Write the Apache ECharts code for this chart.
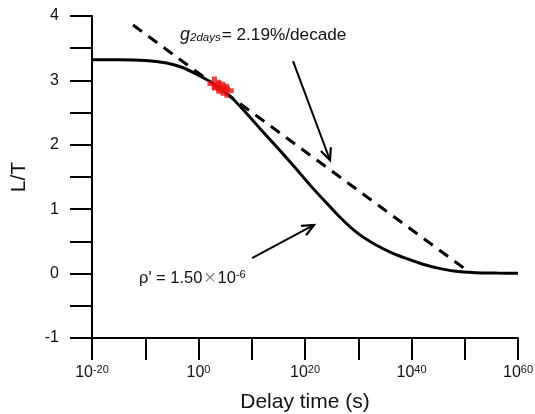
<!DOCTYPE html>
<html>
<head>
<meta charset="utf-8">
<script src="https://cdn.jsdelivr.net/npm/echarts@6/dist/echarts.min.js"></script>
<style>
  html, body { margin: 0; padding: 0; background: #fff; }
  #chart { width: 535px; height: 414px; }
</style>
</head>
<body>
<div id="chart"></div>
<script>
// Delay time is plotted as log10(t / s); the axis labels show it as 10^n.
const curveLogT = [-20, -15, -10, -6, -3, 0, 3, 6, 9, 12, 15, 18, 21, 24, 27, 30, 33, 36, 39, 42, 45, 48, 52, 56, 60];
const curveLT   = [3.32, 3.32, 3.31, 3.27, 3.20, 3.08, 2.94, 2.75, 2.49, 2.21, 1.94, 1.66, 1.37, 1.10, 0.84, 0.62, 0.46, 0.335, 0.235, 0.15, 0.085, 0.04, 0.015, 0.008, 0.005];

// tangent at the 2-day measurements
const tangentLogT = [-12.3, 50.4];
const tangentLT   = [3.86, 0.05];

// measured points (red)
const measLogT = [3.0, 3.8, 4.6, 5.3];
const measLT   = [2.95, 2.90, 2.87, 2.84];

// annotation arrows: [fromLogT, fromLT, toLogT, toLT]
const arrowG   = [17.75, 3.30, 24.7, 1.76];
const arrowRho = [10.05, 0.24, 21.7, 0.755];

const xLabelDecades = [-20, 0, 20, 40, 60];
const yLabelValues  = [-1, 0, 1, 2, 3, 4];

const FONT = 'Liberation Sans, Arial, sans-serif';
const INK = '#111';

const chart = echarts.init(document.getElementById('chart'), null, { renderer: 'canvas' });

function zip(a, b) { return a.map((v, i) => [v, b[i]]); }

function arrowItem(params, api) {
  const p0 = api.coord([api.value(0), api.value(1)]);
  const p1 = api.coord([api.value(2), api.value(3)]);
  const ang = Math.atan2(p1[1] - p0[1], p1[0] - p0[0]);
  const L = 13, spread = 0.42;
  const h1 = [p1[0] - L * Math.cos(ang - spread), p1[1] - L * Math.sin(ang - spread)];
  const h2 = [p1[0] - L * Math.cos(ang + spread), p1[1] - L * Math.sin(ang + spread)];
  return {
    type: 'group',
    children: [
      { type: 'line', shape: { x1: p0[0], y1: p0[1], x2: p1[0], y2: p1[1] },
        style: { stroke: '#000', lineWidth: 2 } },
      { type: 'polyline', shape: { points: [h1, p1, h2] },
        style: { stroke: '#000', lineWidth: 2.2, fill: null } }
    ]
  };
}

const option = {
  animation: false,
  backgroundColor: '#fff',
  grid: { left: 92, right: 17, top: 16, bottom: 76, containLabel: false, outerBoundsMode: 'none' },
  xAxis: {
    type: 'value',
    min: -20, max: 60, interval: 10,
    name: 'Delay time (s)',
    nameLocation: 'middle',
    nameGap: 54,
    nameTextStyle: { fontFamily: FONT, fontSize: 21, color: INK },
    axisLine: { onZero: false, lineStyle: { color: '#000', width: 2 } },
    axisTick: { length: 22, lineStyle: { color: '#000', width: 2 } },
    splitLine: { show: false },
    axisLabel: {
      margin: 26,
      formatter: v => xLabelDecades.includes(v) ? '{b|10}{s|' + v + '}' : '',
      rich: {
        b: { fontFamily: FONT, fontSize: 16, color: INK, lineHeight: 17 },
        s: { fontFamily: FONT, fontSize: 11, color: INK, verticalAlign: 'top', lineHeight: 11 }
      }
    }
  },
  yAxis: {
    type: 'value',
    min: -1, max: 4, interval: 0.5,
    name: 'L/T',
    nameLocation: 'middle',
    nameGap: 62,
    nameRotate: 90,
    nameTextStyle: { fontFamily: FONT, fontSize: 21, color: INK },
    axisLine: { onZero: false, lineStyle: { color: '#000', width: 2 } },
    axisTick: { length: 22, lineStyle: { color: '#000', width: 2 } },
    splitLine: { show: false },
    axisLabel: {
      margin: 33,
      fontFamily: FONT, fontSize: 16, color: INK,
      formatter: v => yLabelValues.includes(v) ? String(v) : ''
    }
  },
  series: [
    {
      name: 'model', type: 'line', smooth: 0.3, symbol: 'none',
      data: zip(curveLogT, curveLT),
      lineStyle: { color: '#000', width: 3 }, z: 3
    },
    {
      name: 'tangent', type: 'line', symbol: 'none',
      data: zip(tangentLogT, tangentLT),
      lineStyle: { color: '#000', width: 3, type: [11, 8] }, z: 2
    },
    {
      name: 'measured', type: 'scatter',
      symbol: 'path://M-1.4,-4H1.4V-1.4H4V1.4H1.4V4H-1.4V1.4H-4V-1.4H-1.4Z',
      symbolSize: 14,
      data: zip(measLogT, measLT),
      itemStyle: { color: '#ee1111' }, z: 4
    },
    {
      name: 'arrows', type: 'custom',
      renderItem: arrowItem,
      encode: { x: [0, 2], y: [1, 3] },
      data: [arrowG, arrowRho], z: 5
    }
  ],
  graphic: [
    {
      type: 'text', left: 180, top: 26,
      style: {
        text: '{g|g}{sub|2days}{t|= 2.19%/decade}',
        rich: {
          g: { fontFamily: FONT, fontSize: 18, fontStyle: 'italic', fill: INK, color: INK },
          sub: { fontFamily: FONT, fontSize: 11.5, fontStyle: 'italic', fill: INK, color: INK, verticalAlign: 'bottom', padding: [0, 1, 0, 0] },
          t: { fontFamily: FONT, fontSize: 17.2, fill: INK, color: INK }
        }
      }
    },
    {
      type: 'text', left: 139, top: 269,
      style: {
        text: "{t|ρ' = 1.50}{x|×}{t|10}{s|-6}",
        rich: {
          t: { fontFamily: FONT, fontSize: 16.5, fill: INK, color: INK, lineHeight: 18 },
          x: { fontFamily: 'DejaVu Sans, sans-serif', fontSize: 18, fontWeight: 'lighter', fill: '#666', color: '#666', lineHeight: 18 },
          s: { fontFamily: FONT, fontSize: 11, fill: INK, color: INK, verticalAlign: 'top', lineHeight: 11 }
        }
      }
    }
  ]
};

chart.setOption(option);
</script>
</body>
</html>
